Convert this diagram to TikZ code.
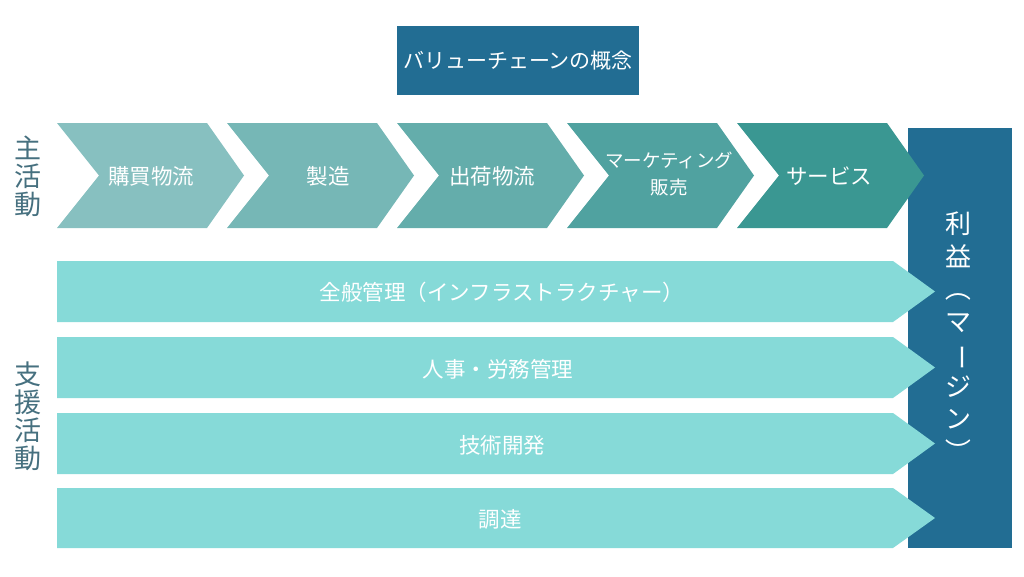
\documentclass[tikz,border=0pt]{standalone}
\usepackage{fontspec}
\usepackage{graphicx}
\setmainfont{Noto Sans CJK JP}

\definecolor{headblue}{HTML}{226D93}
\definecolor{labelink}{HTML}{46707F}
\definecolor{chevA}{HTML}{87C0C0}
\definecolor{chevB}{HTML}{76B7B6}
\definecolor{chevC}{HTML}{64ADAB}
\definecolor{chevD}{HTML}{50A2A0}
\definecolor{chevE}{HTML}{3A9792}
\definecolor{supfill}{HTML}{86DAD8}

% turn a glyph for vertical setting
\newcommand{\vturn}[1]{\rotatebox[origin=c]{-90}{#1}}

\tikzset{
  whitetext/.style={text=white, font=\fontsize{21.5}{25}\selectfont, align=center, inner sep=0pt},
  sidelabel/.style={text=labelink, font=\fontsize{27}{28}\selectfont, align=center, inner sep=0pt},
}

\begin{document}
\begin{tikzpicture}[x=1pt,y=-1pt]
  \useasboundingbox (0,0) rectangle (1024,576);
  % Title
  \fill[headblue] (397,26) rectangle (639,95);
  \node[whitetext, font=\fontsize{21}{25}\selectfont] (title) at (518,61) {バリューチェーンの概念};
  % Margin column
  \fill[headblue] (908,128) rectangle (1012,548);
  \node[whitetext, font=\fontsize{26}{32.5}\selectfont] (margin) at (958,338)
    {利\\益\\\vturn{（}\\マ\\\vturn{ー}\\ジ\\ン\\\vturn{）}};
  % Primary activities
  \fill[chevA] (57,123) -- (207,123) -- (244,175.5) -- (207,228) -- (57,228) -- (99,175.5) -- cycle;
  \node[whitetext] (inbound) at (151,176) {購買物流};
  \fill[chevB] (227,123) -- (377,123) -- (414,175.5) -- (377,228) -- (227,228) -- (269,175.5) -- cycle;
  \node[whitetext] (operations) at (328,176) {製造};
  \fill[chevC] (397,123) -- (547,123) -- (584,175.5) -- (547,228) -- (397,228) -- (439,175.5) -- cycle;
  \node[whitetext] (outbound) at (492,176) {出荷物流};
  \fill[chevD] (567,123) -- (717,123) -- (754,175.5) -- (717,228) -- (567,228) -- (609,175.5) -- cycle;
  \node[whitetext, font=\fontsize{18.5}{27}\selectfont] (marketing) at (669,174) {マーケティング\\販売};
  \fill[chevE] (737,123) -- (887,123) -- (924,175.5) -- (887,228) -- (737,228) -- (779,175.5) -- cycle;
  \node[whitetext] (service) at (829,176) {サービス};
  % Support activities
  \fill[supfill] (57,261) -- (893,261) -- (935,291.5) -- (893,322) -- (57,322) -- cycle;
  \node[whitetext] (infra) at (502,292) {全般管理（インフラストラクチャー）};
  \fill[supfill] (57,337) -- (893,337) -- (935,367.5) -- (893,398) -- (57,398) -- cycle;
  \node[whitetext] (hr) at (498,369) {人事・労務管理};
  \fill[supfill] (57,413) -- (893,413) -- (935,443.5) -- (893,474) -- (57,474) -- cycle;
  \node[whitetext] (tech) at (502,445) {技術開発};
  \fill[supfill] (57,488) -- (893,488) -- (935,518) -- (893,548) -- (57,548) -- cycle;
  \node[whitetext] (procure) at (500,519) {調達};
  % Side labels
  \node[sidelabel] (primary) at (28,176) {主\\活\\動};
  \node[sidelabel] (support) at (28,416) {支\\援\\活\\動};
\end{tikzpicture}
\end{document}
